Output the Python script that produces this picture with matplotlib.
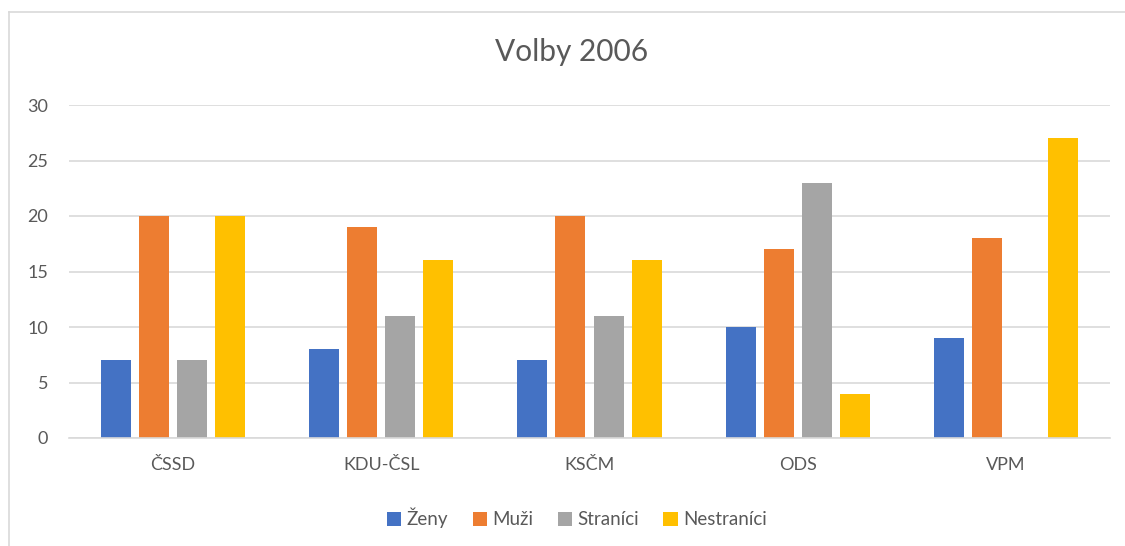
import matplotlib.pyplot as plt
import numpy as np

categories = ['ČSSD', 'KDU-ČSL', 'KSČM', 'ODS', 'VPM']
zeny = [7, 8, 7, 10, 9]
muzi = [20, 19, 20, 17, 18]
stranici = [7, 11, 11, 23, 0]
nestranici = [20, 16, 16, 4, 27]
series_names = ['Ženy', 'Muži', 'Straníci', 'Nestraníci']
colors = ['#4472C4', '#ED7D31', '#A5A5A5', '#FFC000']

plt.rcParams['font.family'] = ['Lato', 'DejaVu Sans']
text_color = '#595959'

fig = plt.figure(figsize=(11.25, 5.46), dpi=100)
ax = fig.add_axes([69 / 1125, 1 - 438 / 546, (1110 - 69) / 1125, (438 - 105) / 546])

x = np.arange(len(categories))
width = 0.144
step = 0.183
for i, (vals, name, c) in enumerate(zip([zeny, muzi, stranici, nestranici], series_names, colors)):
    ax.bar(x + (i - 1.5) * step, vals, width, color=c, label=name, zorder=3)

ax.set_xlim(-0.5, len(categories) - 0.5)
ax.set_ylim(0, 30)
ax.set_yticks(range(0, 31, 5))
ax.set_xticks(x)
ax.set_xticklabels(categories)
ax.grid(axis='y', color='#D9D9D9', linewidth=1.2, zorder=0)
for s in ['top', 'right', 'left']:
    ax.spines[s].set_visible(False)
ax.spines['bottom'].set_color('#D9D9D9')
ax.spines['bottom'].set_linewidth(1.2)
ax.spines['bottom'].set_zorder(4)
ax.tick_params(axis='both', length=0, labelsize=13, colors=text_color)
ax.tick_params(axis='y', pad=15)
ax.tick_params(axis='x', pad=14)

fig.text(572 / 1125, 1 - 52 / 546, 'Volby 2006', ha='center', va='center',
         fontsize=21.5, color=text_color)

fig.legend(loc='center', bbox_to_anchor=(577 / 1125, 1 - 518 / 546), ncol=4,
           frameon=False, fontsize=13.5, labelcolor=text_color,
           handlelength=0.75, handleheight=0.75, handletextpad=0.3, columnspacing=1.3)

# chart area border (left and top edges visible)
fig.add_artist(plt.Line2D([9 / 1125, 9 / 1125], [0, 1 - 12 / 546], transform=fig.transFigure,
                          color='#D9D9D9', linewidth=1.2))
fig.add_artist(plt.Line2D([9 / 1125, 1], [1 - 12 / 546, 1 - 12 / 546], transform=fig.transFigure,
                          color='#D9D9D9', linewidth=1.2))

fig.savefig('out.png', dpi=100)
